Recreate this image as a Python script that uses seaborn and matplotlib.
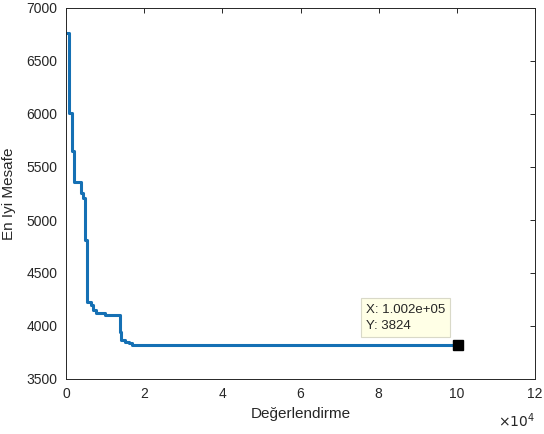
import matplotlib
matplotlib.use('Agg')
import matplotlib.pyplot as plt
from matplotlib.ticker import FuncFormatter, MultipleLocator
import pandas as pd
import seaborn as sns

# step curve of best distance vs evaluation count
evaluations = [0, 850, 1600, 2000, 3850, 4300, 4900, 5350, 6450, 7000, 7700,
               10000, 13800, 14200, 15200, 16000, 16900, 100200]
best_distance = [6760, 6010, 5650, 5360, 5250, 5205, 4810, 4230, 4200, 4150, 4120,
                 4100, 3945, 3870, 3852, 3836, 3824, 3824]

tip_x = 100200
tip_y = 3824

df = pd.DataFrame({'eval': evaluations, 'best': best_distance})

sns.set_style('white')
plt.rcParams['font.family'] = ['Liberation Sans', 'DejaVu Sans']
plt.rcParams['axes.edgecolor'] = '#262626'
plt.rcParams['xtick.color'] = '#262626'
plt.rcParams['ytick.color'] = '#262626'

fig = plt.figure(figsize=(5.44, 4.34), dpi=100)
ax = fig.add_axes([66 / 544, 1 - 379 / 434, (535 - 66) / 544, (379 - 8) / 434])

sns.lineplot(data=df, x='eval', y='best', ax=ax, color='#1570b4', linewidth=2.2,
             drawstyle='steps-post', estimator=None, sort=False)

# datatip marker + box
ax.plot([tip_x], [tip_y], marker='s', markersize=6.5, color='black', linestyle='none')
ax.annotate('X: 1.002e+05\nY: 3824', xy=(tip_x, tip_y), xytext=(-9, 9),
            textcoords='offset points', ha='right', va='bottom', fontsize=9.5,
            multialignment='left', linespacing=1.5, color='#262626',
            bbox=dict(boxstyle='square,pad=0.4', facecolor='#FFFFE6',
                      edgecolor='#D9D9C8', linewidth=0.8))

ax.set_xlim(0, 120000)
ax.set_ylim(3500, 7000)
ax.xaxis.set_major_locator(MultipleLocator(20000))
ax.yaxis.set_major_locator(MultipleLocator(500))
ax.xaxis.set_major_formatter(FuncFormatter(lambda v, p: f'{v / 1e4:g}'))

for s in ax.spines.values():
    s.set_visible(True)
    s.set_linewidth(0.7)
ax.tick_params(direction='in', length=3.5, width=0.7, top=True, right=True,
               labelsize=10, labelcolor='#262626', pad=6)

ax.set_xlabel('Değerlendirme', fontsize=11, color='#262626', labelpad=4)
ax.set_ylabel('En İyi Mesafe', fontsize=11, color='#262626', labelpad=8)
ax.text(1.0, -0.13, r'$\times10^{4}$', transform=ax.transAxes, ha='right',
        va='baseline', fontsize=10, color='#262626')

fig.savefig('out.png', dpi=100, facecolor='white')
